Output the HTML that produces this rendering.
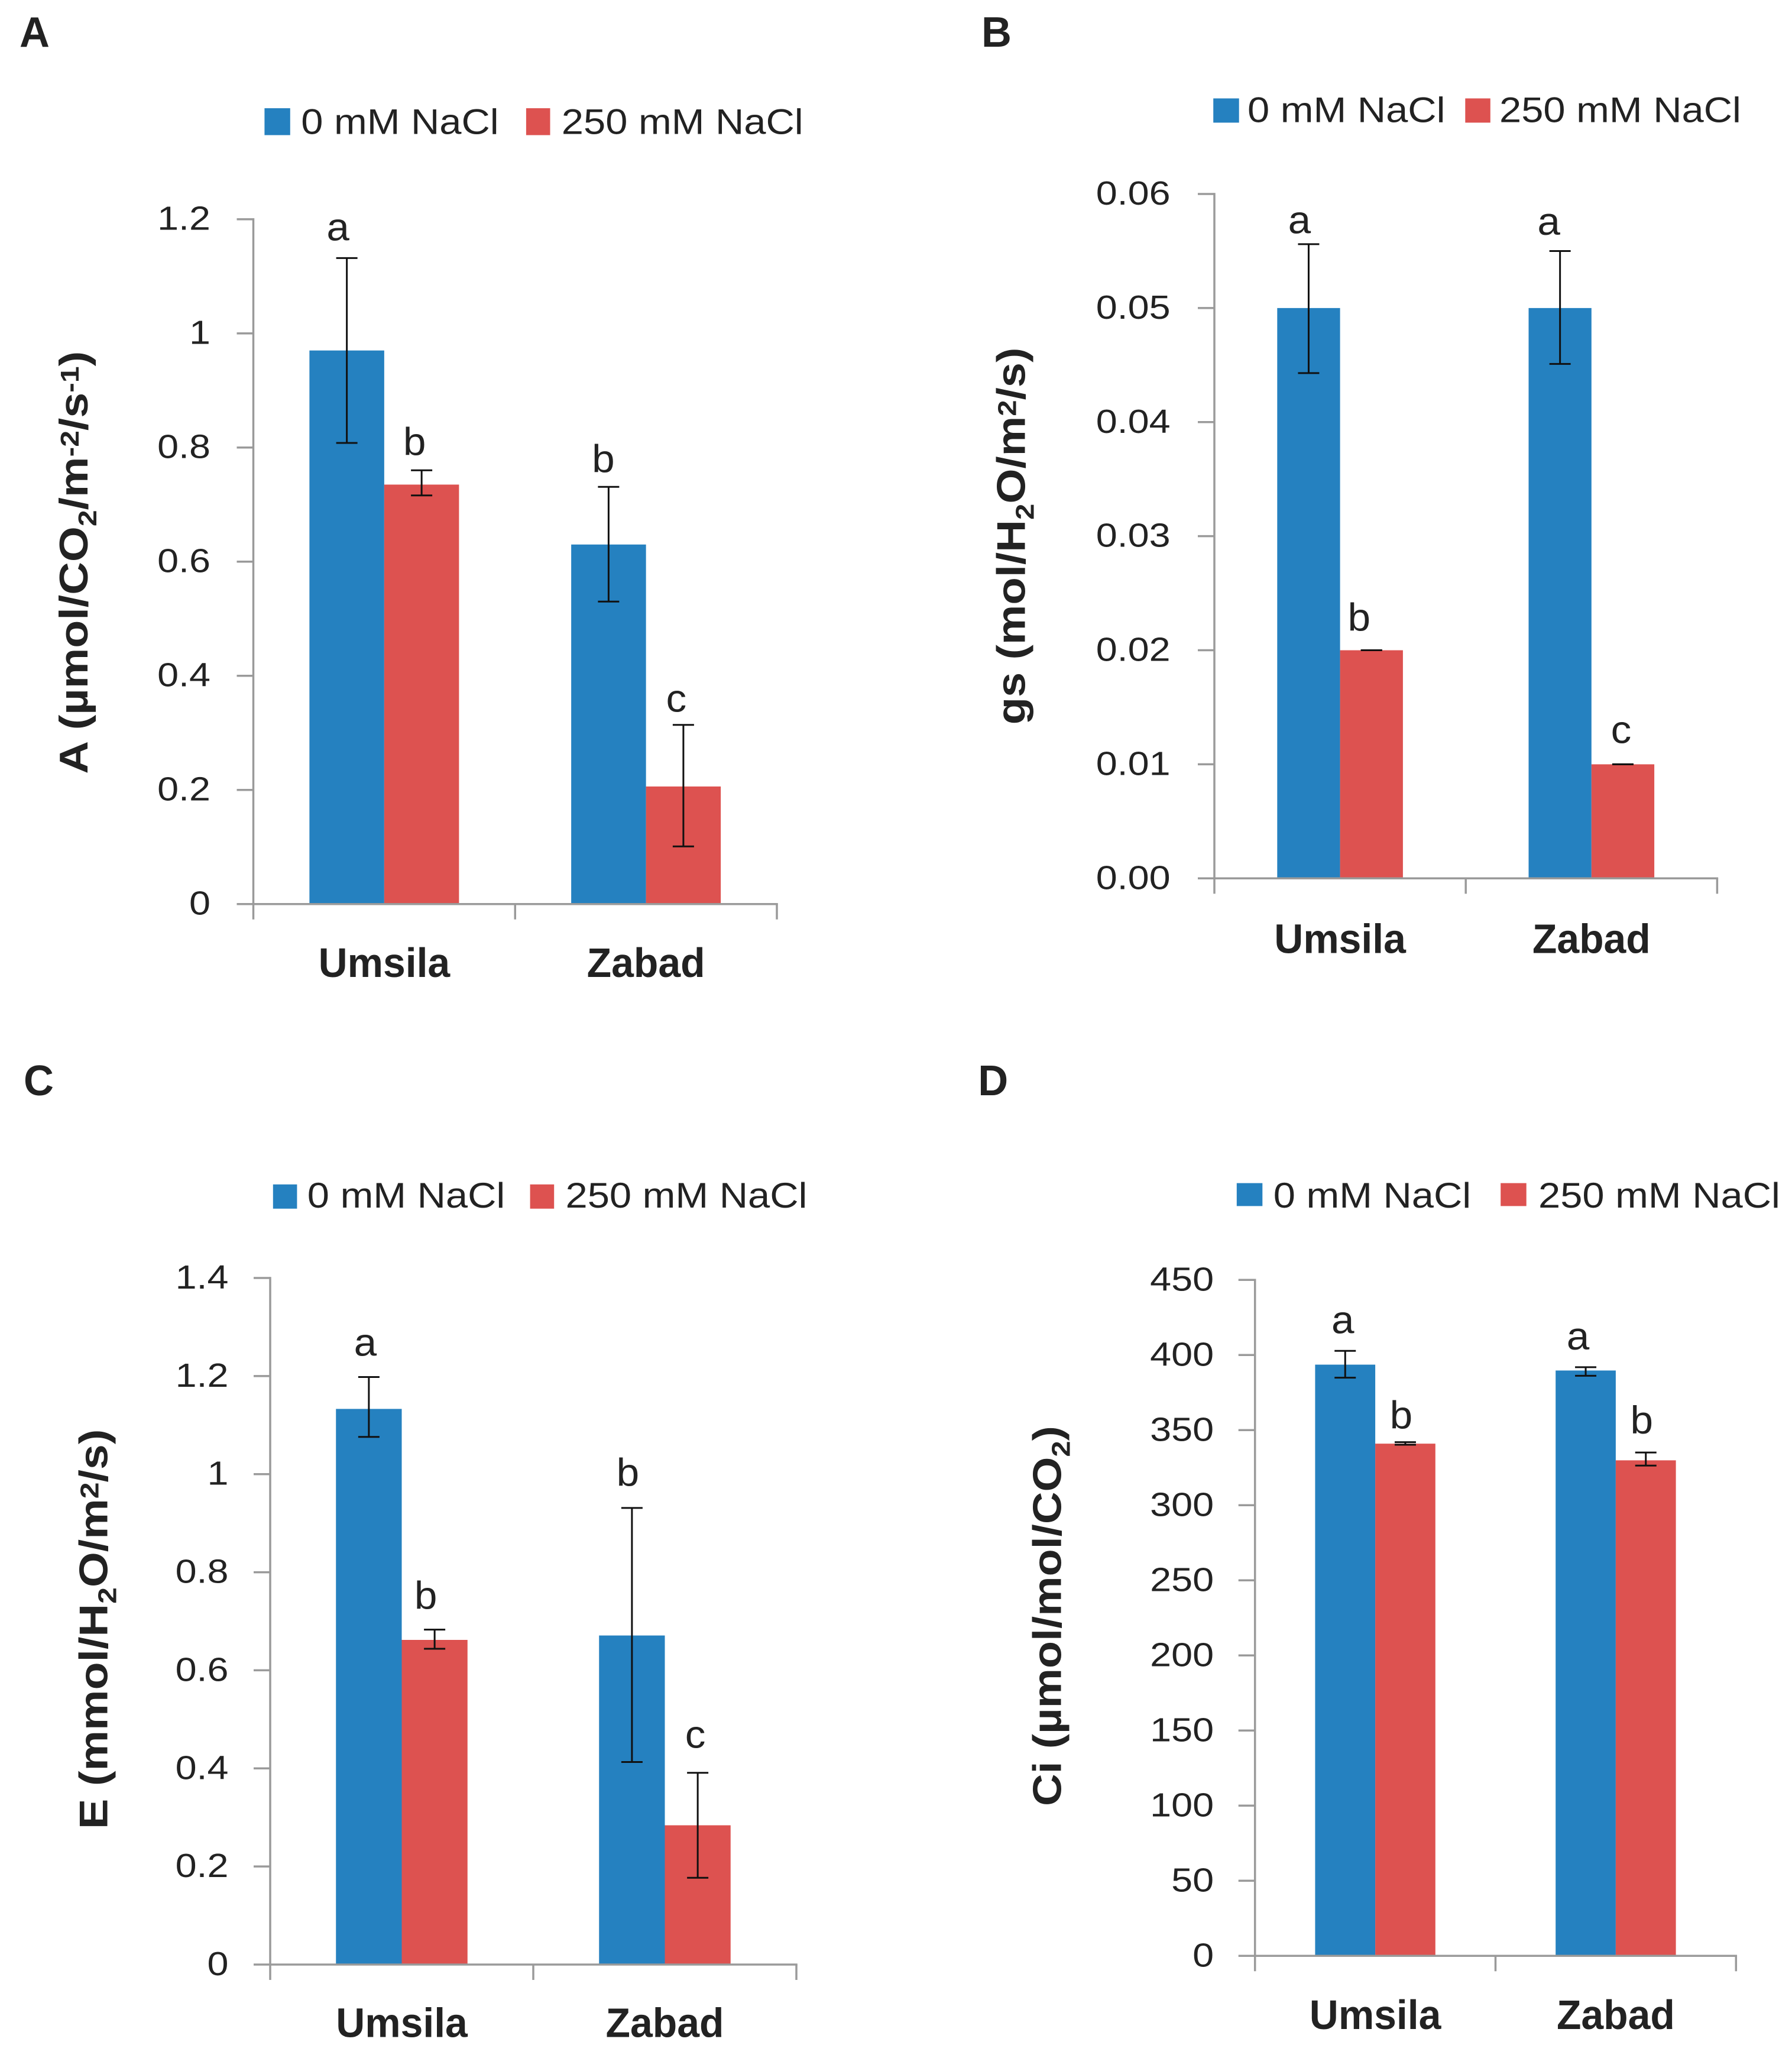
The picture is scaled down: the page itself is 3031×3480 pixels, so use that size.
<!DOCTYPE html>
<html lang="en">
<head>
<meta charset="utf-8">
<title>Gas exchange under salt stress: Umsila and Zabad</title>
<style>
html,body{margin:0;padding:0;background:#fff;}
svg{display:block;}
text{font-family:"Liberation Sans",sans-serif;fill:#222;}
</style>
</head>
<body>
<svg id="figure" xmlns="http://www.w3.org/2000/svg" width="3031" height="3480" viewBox="0 0 3031 3480"></svg>
<script>
// ---- Data ----
const categories = ['Umsila', 'Zabad'];
const seriesNames = ['0 mM NaCl', '250 mM NaCl'];

const aTicks = [0, 0.2, 0.4, 0.6, 0.8, 1, 1.2];
const aTickLabels = ['0', '0.2', '0.4', '0.6', '0.8', '1', '1.2'];
const aControl = [0.97, 0.63];
const aSalt = [0.735, 0.206];
const aControlHigh = [1.132, 0.731];
const aControlLow = [0.808, 0.53];
const aSaltHigh = [0.76, 0.314];
const aSaltLow = [0.716, 0.101];
const aControlLetters = ['a', 'b'];
const aSaltLetters = ['b', 'c'];

const bTicks = [0, 0.01, 0.02, 0.03, 0.04, 0.05, 0.06];
const bTickLabels = ['0.00', '0.01', '0.02', '0.03', '0.04', '0.05', '0.06'];
const bControl = [0.05, 0.05];
const bSalt = [0.02, 0.01];
const bControlHigh = [0.0556, 0.055];
const bControlLow = [0.0443, 0.0451];
const bSaltHigh = [0.02, 0.01];
const bSaltLow = [0.02, 0.01];
const bControlLetters = ['a', 'a'];
const bSaltLetters = ['b', 'c'];

const cTicks = [0, 0.2, 0.4, 0.6, 0.8, 1, 1.2, 1.4];
const cTickLabels = ['0', '0.2', '0.4', '0.6', '0.8', '1', '1.2', '1.4'];
const cControl = [1.133, 0.671];
const cSalt = [0.662, 0.284];
const cControlHigh = [1.198, 0.931];
const cControlLow = [1.076, 0.413];
const cSaltHigh = [0.683, 0.391];
const cSaltLow = [0.644, 0.177];
const cControlLetters = ['a', 'b'];
const cSaltLetters = ['b', 'c'];

const dTicks = [0, 50, 100, 150, 200, 250, 300, 350, 400, 450];
const dTickLabels = ['0', '50', '100', '150', '200', '250', '300', '350', '400', '450'];
const dControl = [393.6, 389.7];
const dSalt = [341, 329.9];
const dControlHigh = [402.8, 391.9];
const dControlLow = [384.9, 386.2];
const dSaltHigh = [342, 335.1];
const dSaltLow = [340.3, 326.4];
const dControlLetters = ['a', 'a'];
const dSaltLetters = ['b', 'b'];

const aTitle = [['A (µmol/CO', 0], ['2', 1], ['/m', 0], ['-2', -1], ['/s', 0], ['-1', -1], [')', 0]];
const bTitle = [['gs (mol/H', 0], ['2', 1], ['O/m', 0], ['2', -1], ['/s)', 0]];
const cTitle = [['E (mmol/H', 0], ['2', 1], ['O/m', 0], ['2', -1], ['/s)', 0]];
const dTitle = [['Ci (µmol/mol/CO', 0], ['2', 1], [')', 0]];

// ---- Rendering ----
const NS = 'http://www.w3.org/2000/svg';
const BLUE = '#2581c0';
const RED = '#dd5250';
const AXIS = '#9a9a9a';
const svg = document.getElementById('figure');

function mk(parent, tag, attrs, name) {
  const el = document.createElementNS(NS, tag);
  for (const k in attrs) el.setAttribute(k, attrs[k]);
  
  
  parent.appendChild(el);
  return el;
}
function label(parent, x, y, str, size, sx, anchor, weight, name) {
  const t = mk(parent, 'text', {
    transform: 'translate(' + x + ',' + y + ') scale(' + sx + ',1)',
    'font-size': size, 'text-anchor': anchor, 'font-weight': weight
  }, name);
  t.textContent = str;
  return t;
}

function drawPanel(p) {
  const g = mk(svg, 'g', {}, 'panel-' + p.id.toLowerCase());
  const yMax = p.ticks[p.ticks.length - 1];
  const y = v => p.y0 - (v / yMax) * (p.y0 - p.yTop);
  const catW = (p.xEnd - p.x0) / categories.length;
  const barW = catW / (2 + p.gap);
  const barX = (c, s) => p.x0 + catW * c + (catW - 2 * barW) / 2 + s * barW;

  label(g, p.letter[0], p.letter[1], p.id, 72, 0.98, 'start', 'bold', 'panel-letter');

  // legend
  const lg = mk(g, 'g', {}, 'legend');
  seriesNames.forEach((nm, s) => {
    const e = p.legend[s];
    const entry = mk(lg, 'g', {}, 'legend-entry-' + (s ? 'salt' : 'control'));
    mk(entry, 'rect', {x: e[0], y: e[1], width: e[2], height: e[3], fill: s ? RED : BLUE}, 'legend-swatch');
    label(entry, e[4], e[5], nm, 60, 1.115, 'start', 'normal', 'legend-label');
  });

  // bars
  const series = [
    {vals: p.control, hi: p.controlHigh, lo: p.controlLow, letters: p.controlLetters, color: BLUE, nm: 'control', gapPx: p.controlLetterGaps},
    {vals: p.salt, hi: p.saltHigh, lo: p.saltLow, letters: p.saltLetters, color: RED, nm: 'salt', gapPx: p.saltLetterGaps}
  ];
  series.forEach((sr, s) => {
    categories.forEach((cat, c) => {
      const key = cat.toLowerCase() + '-' + sr.nm;
      mk(g, 'rect', {x: barX(c, s), y: y(sr.vals[c]), width: barW, height: p.y0 - y(sr.vals[c]), fill: sr.color}, 'bar-' + key);
    });
  });

  // axes
  mk(g, 'line', {x1: p.x0, y1: p.yTop - 1.75, x2: p.x0, y2: p.y0 + 26, stroke: AXIS, 'stroke-width': 3.5}, 'y-axis-line');
  mk(g, 'line', {x1: p.x0 - 28, y1: p.y0, x2: p.xEnd + 1.75, y2: p.y0, stroke: AXIS, 'stroke-width': 3.5}, 'x-axis-line');
  p.ticks.forEach((v, i) => {
    if (i > 0) mk(g, 'line', {x1: p.x0 - 28, y1: y(v), x2: p.x0, y2: y(v), stroke: AXIS, 'stroke-width': 3.5}, 'y-tick');
    label(g, p.x0 - p.labelGap, y(v) + 18, p.tickLabels[i], 57, 1.135, 'end', 'normal', 'y-tick-label');
  });
  for (let c = 1; c <= categories.length; c++) {
    mk(g, 'line', {x1: p.x0 + catW * c, y1: p.y0, x2: p.x0 + catW * c, y2: p.y0 + 26, stroke: AXIS, 'stroke-width': 3.5}, 'x-tick');
  }
  categories.forEach((cat, c) => {
    label(g, p.x0 + catW * (c + 0.5), p.y0 + p.catOffset, cat, 70, 0.97, 'middle', 'bold', 'x-category-label');
  });

  // error bars + significance letters
  series.forEach((sr, s) => {
    categories.forEach((cat, c) => {
      const key = cat.toLowerCase() + '-' + sr.nm;
      const cx = barX(c, s) + barW / 2;
      const eg = mk(g, 'g', {stroke: '#111', 'stroke-width': 3}, 'error-bar-' + key);
      mk(eg, 'line', {x1: cx, y1: y(sr.hi[c]), x2: cx, y2: y(sr.lo[c])}, 'error-stem');
      mk(eg, 'line', {x1: cx - 18, y1: y(sr.hi[c]), x2: cx + 18, y2: y(sr.hi[c])}, 'error-cap-top');
      mk(eg, 'line', {x1: cx - 18, y1: y(sr.lo[c]), x2: cx + 18, y2: y(sr.lo[c])}, 'error-cap-bottom');
      const off = sr.gapPx[c];
      label(g, cx + off[0], y(sr.hi[c]) - off[1] - 2, sr.letters[c], 66, 1.05, 'middle', 'normal', 'significance-letter-' + key);
    });
  });

  // y-axis title (rotated; length fitted to the reference)
  const t = mk(g, 'text', {'font-size': 68, 'font-weight': 'bold'}, 'y-axis-title');
  let shift = 0;
  p.title.forEach(seg => {
    const ts = document.createElementNS(NS, 'tspan');
    const want = seg[1] * 15;
    ts.setAttribute('dy', want - shift);
    shift = want;
    if (seg[1] !== 0) ts.setAttribute('font-size', 44);
    ts.textContent = seg[0];
    t.appendChild(ts);
  });
  const len = t.getComputedTextLength();
  t.setAttribute('transform', 'translate(' + p.titleX + ',' + p.titleBottom + ') rotate(-90) scale(' + (p.titleLen / len) + ',1)');
}

drawPanel({
  id: 'A', x0: 428.5, xEnd: 1314, yTop: 370.7, y0: 1528.7, gap: 1.5, labelGap: 72.5, catOffset: 123.5,
  ticks: aTicks, tickLabels: aTickLabels, control: aControl, salt: aSalt,
  controlHigh: aControlHigh, controlLow: aControlLow, saltHigh: aSaltHigh, saltLow: aSaltLow,
  controlLetters: aControlLetters, saltLetters: aSaltLetters,
  controlLetterGaps: [[-15, 27.7], [-9, 23]],
  saltLetterGaps: [[-12, 24], [-12, 20]],
  letter: [33, 79],
  legend: [[447.4, 183, 43.4, 45.5, 509.2, 226.5], [889.9, 183, 40.6, 45.5, 949.8, 226.5]],
  title: aTitle, titleX: 148, titleBottom: 1308.6, titleLen: 715
});
drawPanel({
  id: 'B', x0: 2054, xEnd: 2904.4, yTop: 328, y0: 1485.3, gap: 2, labelGap: 74.4, catOffset: 126,
  ticks: bTicks, tickLabels: bTickLabels, control: bControl, salt: bSalt,
  controlHigh: bControlHigh, controlLow: bControlLow, saltHigh: bSaltHigh, saltLow: bSaltLow,
  controlLetters: bControlLetters, saltLetters: bSaltLetters,
  controlLetterGaps: [[-15.5, 16.6], [-19, 25.5]],
  saltLetterGaps: [[-21, 31], [-3, 34]],
  letter: [1660, 79],
  legend: [[2052.2, 166.4, 43.5, 41, 2110, 206.5], [2478.3, 166.4, 42.5, 41, 2536, 206.5]],
  title: bTitle, titleX: 1733.4, titleBottom: 1225.4, titleLen: 638
});
drawPanel({
  id: 'C', x0: 457, xEnd: 1347, yTop: 2161, y0: 3322, gap: 2, labelGap: 70.5, catOffset: 122.5,
  ticks: cTicks, tickLabels: cTickLabels, control: cControl, salt: cSalt,
  controlHigh: cControlHigh, controlLow: cControlLow, saltHigh: cSaltHigh, saltLow: cSaltLow,
  controlLetters: cControlLetters, saltLetters: cSaltLetters,
  controlLetterGaps: [[-6, 34], [-7, 35.5]],
  saltLetterGaps: [[-15, 33], [-4, 40]],
  letter: [40, 1852],
  legend: [[461.8, 2002.8, 40.6, 41, 519.8, 2041.9], [896.6, 2002.8, 40.6, 41, 956.5, 2041.9]],
  title: cTitle, titleX: 181.6, titleBottom: 3093, titleLen: 676.5
});
drawPanel({
  id: 'D', x0: 2122.7, xEnd: 2936.3, yTop: 2164.3, y0: 3307.3, gap: 2, labelGap: 69.6, catOffset: 123.7,
  ticks: dTicks, tickLabels: dTickLabels, control: dControl, salt: dSalt,
  controlHigh: dControlHigh, controlLow: dControlLow, saltHigh: dSaltHigh, saltLow: dSaltLow,
  controlLetters: dControlLetters, saltLetters: dSaltLetters,
  controlLetterGaps: [[-4, 27.7], [-13, 27.7]],
  saltLetterGaps: [[-7, 21], [-7, 30]],
  letter: [1654.2, 1852],
  legend: [[2091.8, 2000.6, 43.5, 38.8, 2153.7, 2041.9], [2538.2, 2000.6, 43.5, 38.8, 2602, 2041.9]],
  title: dTitle, titleX: 1794.3, titleBottom: 3054, titleLen: 643
});
</script>
</body>
</html>
